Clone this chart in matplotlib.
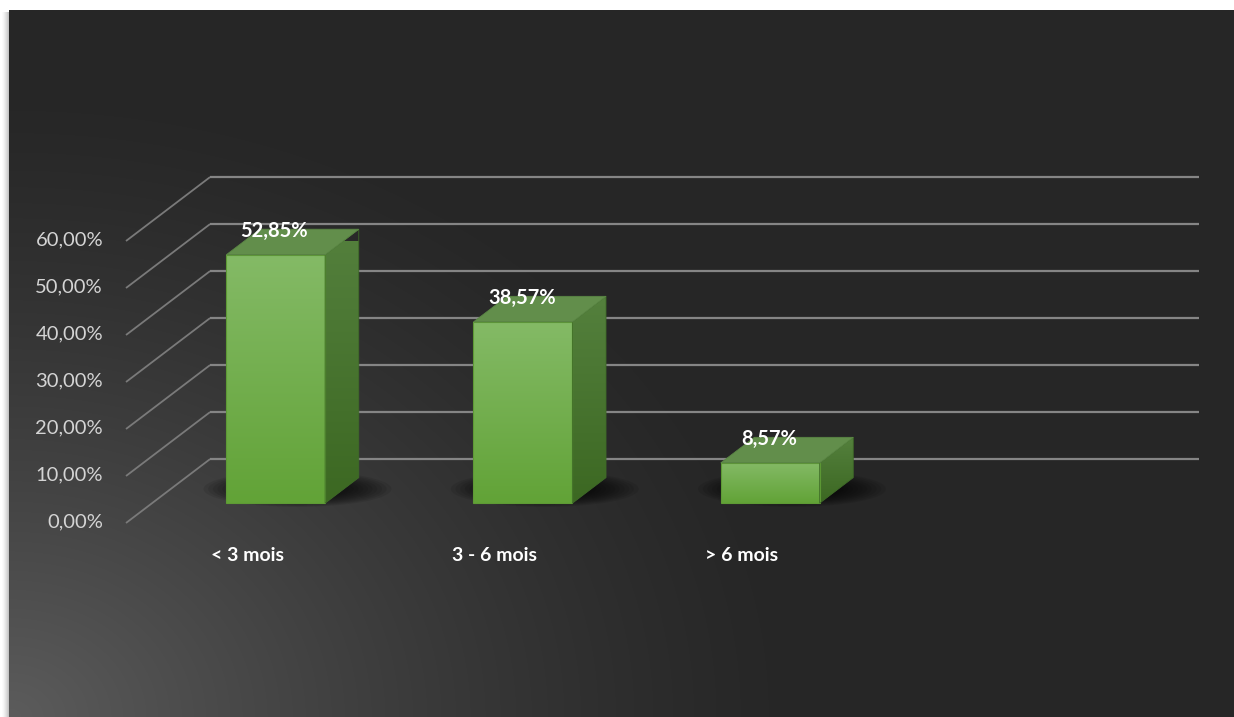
import numpy as np
import matplotlib
matplotlib.use("Agg")
import matplotlib.pyplot as plt
from matplotlib.patches import Polygon, Ellipse

categories = ["< 3 mois", "3 - 6 mois", "> 6 mois"]
shares = [52.85, 38.57, 8.57]
y_ticks = [0, 10, 20, 30, 40, 50, 60]
n_slots = 4  # the category axis leaves room for a fourth (empty) slot

W, H = 1234, 717
DPI = 100

# oblique depth of the floor, in data units (x: slots, y: percent)
DEPTH_X = 0.34
DEPTH_Y = 13.6
Z_FRONT, Z_BACK = 0.31, 0.71   # depth occupied by the bars
HALF_W = 0.2

fig = plt.figure(figsize=(W / DPI, H / DPI), dpi=DPI, facecolor="white")

# ---- background panel with a soft light spot in the lower left
bg_ax = fig.add_axes([0, 0, 1, 1])
bg_ax.set_axis_off()
yy, xx = np.mgrid[0:H, 0:W].astype(float)
img = np.ones((H, W, 3))
dark = np.array([38, 38, 38]) / 255
light = np.array([92, 92, 92]) / 255
d = np.sqrt(((xx - 10) / 800) ** 2 + ((yy - 717) / 640) ** 2)
t = np.clip(1 - d, 0, 1) ** 1.35
panel = dark + (light - dark) * t[..., None]
inside = (xx >= 9) & (yy >= 10)
img[inside] = panel[inside]
# drop shadow to the left of the panel
for k in range(1, 8):
    col = 9 - k
    shade = 1 - 0.28 * (1 - k / 8) ** 1.5
    img[12:, col] = np.minimum(img[12:, col], shade)
bg_ax.imshow(img, extent=(0, W, H, 0), aspect="auto", interpolation="bilinear")
bg_ax.set_xlim(0, W)
bg_ax.set_ylim(H, 0)

# ---- chart axes: front plane of the 3D box
left, right = 126, 1115
bottom, top = 523, 241
ax = fig.add_axes([left / W, (H - bottom) / H, (right - left) / W, (bottom - top) / H])
ax.set_xlim(0, n_slots)
ax.set_ylim(0, 60)
ax.set_axis_off()
ax.patch.set_alpha(0)

grid_col = "#858585"
for v in y_ticks:
    # floor-side diagonal and back-wall line
    ax.plot([0, DEPTH_X], [v, v + DEPTH_Y], color="#7a7a7a", lw=1.3,
            clip_on=False, solid_capstyle="butt")
    ax.plot([DEPTH_X, n_slots + DEPTH_X], [v + DEPTH_Y, v + DEPTH_Y],
            color=grid_col, lw=1.6, clip_on=False, solid_capstyle="butt")
    ax.text(-0.093, v + 0.3, f"{v:.2f}%".replace(".", ","), ha="right", va="center",
            fontsize=14.5, color="#d4d4d4", family="Lato")


def vgrad(c_top, c_bot, n=64):
    a = np.array(matplotlib.colors.to_rgb(c_top))
    b = np.array(matplotlib.colors.to_rgb(c_bot))
    s = np.linspace(0, 1, n)[:, None]
    return (a + (b - a) * s)[:, None, :]


for i, (name, v) in enumerate(zip(categories, shares)):
    x0, x1 = i + 0.5 - HALF_W, i + 0.5 + HALF_W
    fx, fy = Z_FRONT * DEPTH_X, Z_FRONT * DEPTH_Y
    bx, by = Z_BACK * DEPTH_X, Z_BACK * DEPTH_Y

    # blurred floor shadow
    cx = i + 0.5 + 0.5 * (fx + bx) + 0.02
    cy = 0.5 * (fy + by) + 0.3
    for k in range(10):
        s = 1 - k * 0.05
        ax.add_patch(Ellipse((cx, cy), 0.76 * s, 7.6 * s, color="black",
                             alpha=0.085, lw=0, clip_on=False, zorder=2))

    front = [(x0 + fx, fy), (x1 + fx, fy), (x1 + fx, v + fy), (x0 + fx, v + fy)]
    side = [(x1 + fx, fy), (x1 + bx, by), (x1 + bx, v + by), (x1 + fx, v + fy)]
    top_face = [(x0 + fx, v + fy), (x1 + fx, v + fy), (x1 + bx, v + by), (x0 + bx, v + by)]

    # front face
    p = Polygon(front, closed=True, facecolor="none", edgecolor="#5e9a35", lw=0.8,
                zorder=4, clip_on=False)
    ax.add_patch(p)
    im = ax.imshow(vgrad("#84ba66", "#62a337"), extent=(x0 + fx, x1 + fx, fy, v + fy),
                   origin="upper", aspect="auto", zorder=3, interpolation="bilinear")
    im.set_clip_path(p)

    # side face
    p = Polygon(side, closed=True, facecolor="none", edgecolor="#3f6b28", lw=0.6,
                zorder=4, clip_on=False)
    ax.add_patch(p)
    im = ax.imshow(vgrad("#54803d", "#3c6822"), extent=(x1 + fx, x1 + bx, fy, v + by),
                   origin="upper", aspect="auto", zorder=3, interpolation="bilinear")
    im.set_clip_path(p)

    # top face
    ax.add_patch(Polygon(top_face, closed=True, facecolor="#628e4b", edgecolor="#5a8644",
                         lw=0.6, zorder=4, clip_on=False))

    ax.text(i + 0.5 + fx - 0.005, v + fy + 5.1, f"{v:.2f}%".replace(".", ","), ha="center",
            va="center", fontsize=14.5, fontweight="bold", color="white",
            family="Lato", zorder=6)
    ax.text(i + 0.49, -7.0, name, ha="center", va="center", fontsize=14,
            fontweight="bold", color="white", family="Lato", zorder=6)

ax.set_xlim(0, n_slots)
ax.set_ylim(0, 60)

fig.savefig("out.png", dpi=DPI, facecolor="white")
